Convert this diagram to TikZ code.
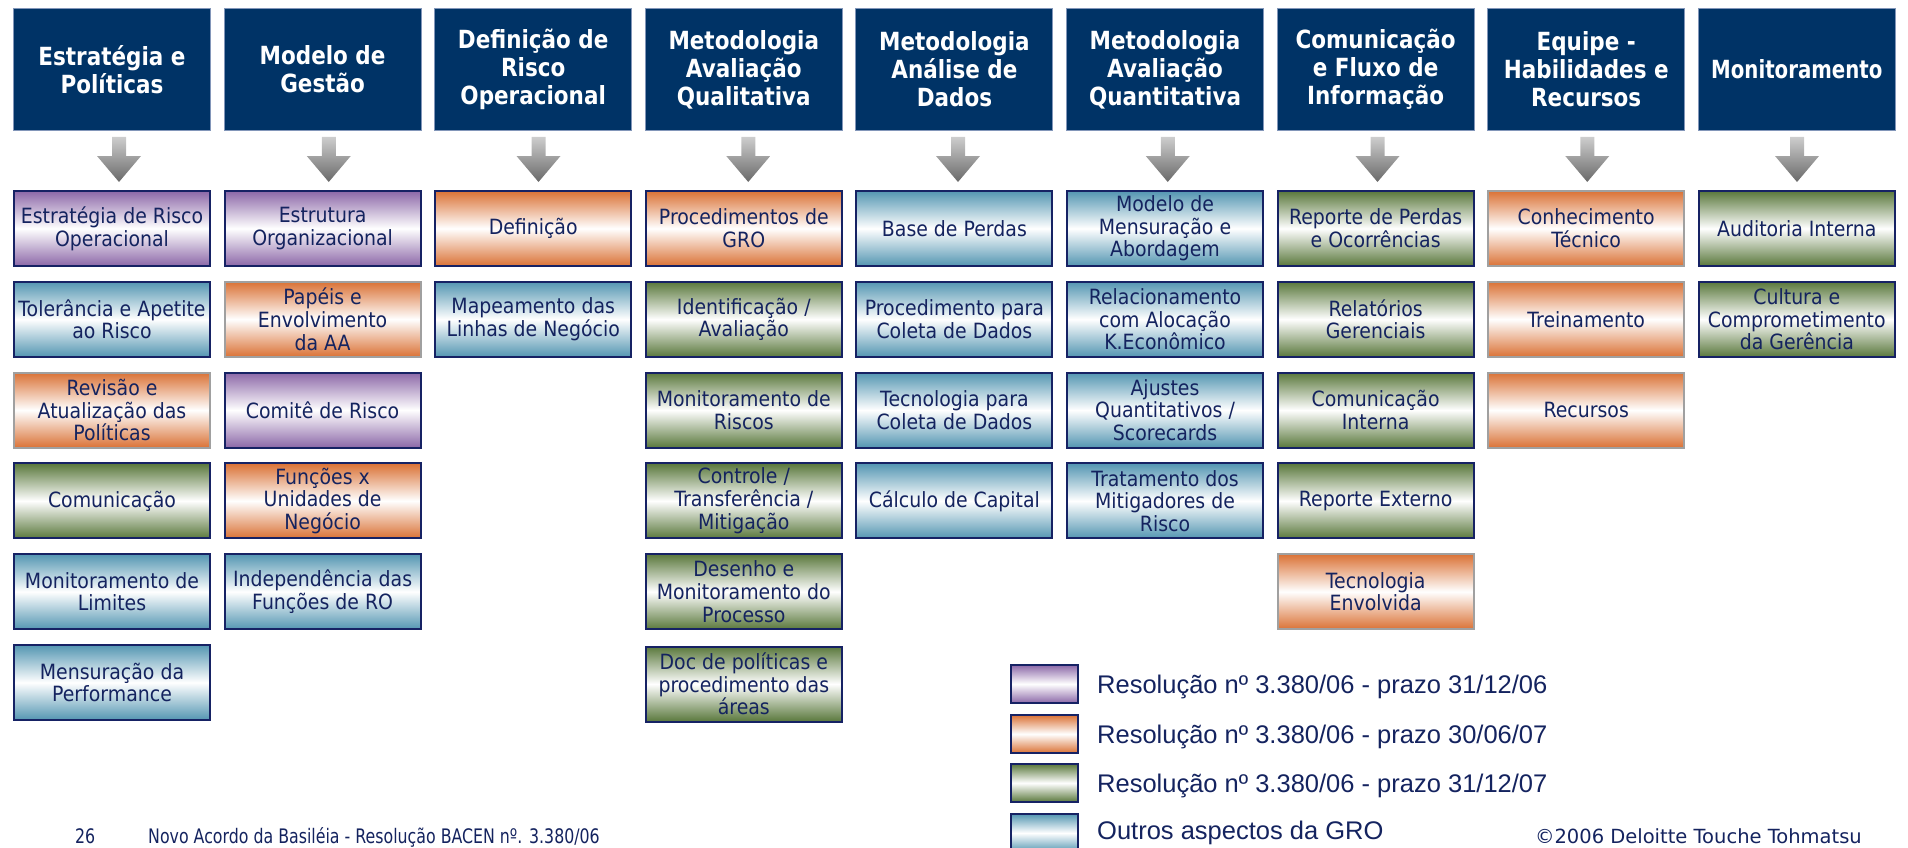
\documentclass[tikz,border=0pt]{standalone}
\usepackage{fontspec}
\setmainfont{DejaVu Sans}
\newfontfamily\boxfont[FakeStretch=0.9]{DejaVu Sans}
\newfontfamily\headfont[FakeStretch=0.86]{DejaVu Sans}
\newfontfamily\headfontn[FakeStretch=0.79]{DejaVu Sans}
\newfontfamily\legfont{Liberation Sans}
\newfontfamily\footfont[FakeStretch=0.79]{DejaVu Sans}
\newfontfamily\copyfont{DejaVu Sans}
\definecolor{hdrfill}{RGB}{0,51,102}
\definecolor{hdrline}{RGB}{130,150,185}
\definecolor{navyline}{RGB}{22,34,100}
\definecolor{grayline}{RGB}{160,160,160}
\definecolor{txt}{RGB}{20,35,95}
\definecolor{cpur}{RGB}{140,104,168}
\definecolor{cora}{RGB}{218,114,54}
\definecolor{cgre}{RGB}{90,120,60}
\definecolor{cblu}{RGB}{84,150,178}
\definecolor{arrtop}{RGB}{205,205,205}
\definecolor{arrbot}{RGB}{105,105,105}
\begin{document}
\begin{tikzpicture}[x=1pt,y=-1pt,
  hdr/.style={draw=hdrline, line width=1pt, fill=hdrfill, minimum width=197pt, minimum height=122pt,
    inner sep=0pt, align=center, text=white, font=\headfont\bfseries\fontsize{25}{28}\selectfont},
  sub/.style={line width=2pt, draw=navyline, minimum width=196pt, minimum height=75pt, inner sep=0pt,
    align=center, text=txt, font=\boxfont\fontsize{21}{22.7}\selectfont},
  gb/.style={draw=grayline},
  pu/.style={top color=cpur, bottom color=cpur, middle color=white},
  og/.style={top color=cora, bottom color=cora, middle color=white},
  gr/.style={top color=cgre, bottom color=cgre, middle color=white},
  bl/.style={top color=cblu, bottom color=cblu, middle color=white},
  legbox/.style={line width=2pt, draw=navyline, minimum width=67pt, minimum height=38pt, inner sep=0pt},
  legtext/.style={anchor=west, text=txt, font=\legfont\fontsize{25.5}{28}\selectfont, inner sep=0pt},
  foot/.style={anchor=base west, text=txt, font=\footfont\fontsize{20}{22}\selectfont, inner sep=0pt},
  arrowshape/.style={top color=arrtop, bottom color=arrbot, draw=none}
]
\useasboundingbox (0,0) rectangle (1908,848);
\clip (0,0) rectangle (1908,848);

% headers
\node[hdr] (h1) at (112,69.5) {Estratégia e\\Políticas};
\node[hdr] (h2) at (322.6,69.5) {Modelo de\\Gestão};
\node[hdr] (h3) at (533.2,69.5) {Definição de\\Risco\\Operacional};
\node[hdr] (h4) at (743.8,69.5) {Metodologia\\Avaliação\\Qualitativa};
\node[hdr] (h5) at (954.4,69.5) {Metodologia\\Análise de\\Dados};
\node[hdr] (h6) at (1165,69.5) {Metodologia\\Avaliação\\Quantitativa};
\node[hdr] (h7) at (1375.6,69.5) {Comunicação\\e Fluxo de\\Informação};
\node[hdr] (h8) at (1586.2,69.5) {Equipe -\\Habilidades e\\Recursos};
\node[hdr,font=\headfontn\bfseries\fontsize{25}{28}\selectfont] (h9) at (1796.8,69.5) {Monitoramento};

% arrows
\foreach \ax in {119,328.75,538.5,748.25,958,1167.75,1377.5,1587.25,1797}{
  \shade[arrowshape] (\ax-7,137) -- (\ax+7,137) -- (\ax+7,156) -- (\ax+22,156) -- (\ax,182)
     -- (\ax-22,156) -- (\ax-7,156) -- cycle;
}

% column 1
\node[sub,pu] (b11) at (112,228.5) {Estratégia de Risco\\Operacional};
\node[sub,bl] (b12) at (112,319.3) {Tolerância e Apetite\\ao Risco};
\node[sub,og,gb] (b13) at (112,410.1) {Revisão e\\Atualização das\\Políticas};
\node[sub,gr] (b14) at (112,500.9) {Comunicação};
\node[sub,bl] (b15) at (112,591.7) {Monitoramento de\\Limites};
\node[sub,bl] (b16) at (112,682.5) {Mensuração da\\Performance};

% column 2
\node[sub,pu] (b21) at (322.6,228.5) {Estrutura\\Organizacional};
\node[sub,og,gb] (b22) at (322.6,319.3) {Papéis e\\Envolvimento\\da AA};
\node[sub,pu] (b23) at (322.6,410.1) {Comitê de Risco};
\node[sub,og] (b24) at (322.6,500.9) {Funções x\\Unidades de\\Negócio};
\node[sub,bl] (b25) at (322.6,591.7) {Independência das\\Funções de RO};

% column 3
\node[sub,og] (b31) at (533.2,228.5) {Definição};
\node[sub,bl] (b32) at (533.2,319.3) {Mapeamento das\\Linhas de Negócio};

% column 4
\node[sub,og] (b41) at (743.8,228.5) {Procedimentos de\\GRO};
\node[sub,gr] (b42) at (743.8,319.3) {Identificação /\\Avaliação};
\node[sub,gr] (b43) at (743.8,410.1) {Monitoramento de\\Riscos};
\node[sub,gr] (b44) at (743.8,500.9) {Controle /\\Transferência /\\Mitigação};
\node[sub,gr] (b45) at (743.8,591.7) {Desenho e\\Monitoramento do\\Processo};
\node[sub,gr] (b46) at (743.8,684) {Doc de políticas e\\procedimento das\\áreas};

% column 5
\node[sub,bl] (b51) at (954.4,228.5) {Base de Perdas};
\node[sub,bl] (b52) at (954.4,319.3) {Procedimento para\\Coleta de Dados};
\node[sub,bl] (b53) at (954.4,410.1) {Tecnologia para\\Coleta de Dados};
\node[sub,bl] (b54) at (954.4,500.9) {Cálculo de Capital};

% column 6
\node[sub,bl] (b61) at (1165,228.5) {Modelo de\\Mensuração e\\Abordagem};
\node[sub,bl] (b62) at (1165,319.3) {Relacionamento\\com Alocação\\K.Econômico};
\node[sub,bl] (b63) at (1165,410.1) {Ajustes\\Quantitativos /\\Scorecards};
\node[sub,bl] (b64) at (1165,500.9) {Tratamento dos\\Mitigadores de\\Risco};

% column 7
\node[sub,gr] (b71) at (1375.6,228.5) {Reporte de Perdas\\e Ocorrências};
\node[sub,gr] (b72) at (1375.6,319.3) {Relatórios\\Gerenciais};
\node[sub,gr] (b73) at (1375.6,410.1) {Comunicação\\Interna};
\node[sub,gr] (b74) at (1375.6,500.9) {Reporte Externo};
\node[sub,og,gb] (b75) at (1375.6,591.7) {Tecnologia\\Envolvida};

% column 8
\node[sub,og,gb] (b81) at (1586.2,228.5) {Conhecimento\\Técnico};
\node[sub,og,gb] (b82) at (1586.2,319.3) {Treinamento};
\node[sub,og,gb] (b83) at (1586.2,410.1) {Recursos};

% column 9
\node[sub,gr] (b91) at (1796.8,228.5) {Auditoria Interna};
\node[sub,gr] (b92) at (1796.8,319.3) {Cultura e\\Comprometimento\\da Gerência};

% legend
\node[legbox,pu] (l1) at (1044.5,684) {};
\node[legbox,og] (l2) at (1044.5,734) {};
\node[legbox,gr] (l3) at (1044.5,783) {};
\node[legbox,bl] (l4) at (1044.5,833) {};
\node[legtext] (t1) at (1097,687) {Resolução nº 3.380/06 - prazo 31/12/06};
\node[legtext] (t2) at (1097,737) {Resolução nº 3.380/06 - prazo 30/06/07};
\node[legtext] (t3) at (1097,786) {Resolução nº 3.380/06 - prazo 31/12/07};
\node[legtext] (t4) at (1097,833) {Outros aspectos da GRO};

% footer
\node[foot] (pg) at (75,843) {26};
\node[foot] (ft) at (148,843) {Novo Acordo da Basiléia - Resolução BACEN nº. 3.380/06};
\node[foot,anchor=base east,font=\copyfont\fontsize{19.5}{22}\selectfont] (cp) at (1862,843) {©2006 Deloitte Touche Tohmatsu};
\end{tikzpicture}
\end{document}
